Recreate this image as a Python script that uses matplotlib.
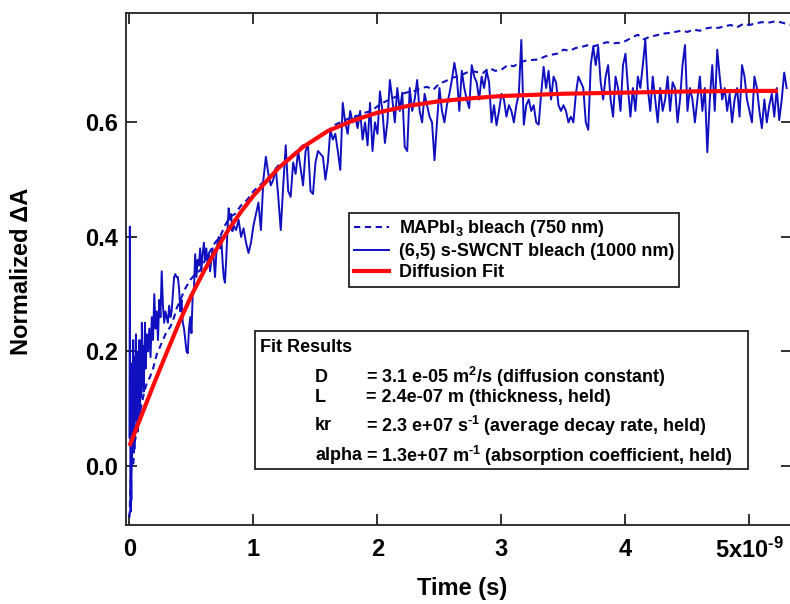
import numpy as np
import matplotlib
matplotlib.use("Agg")
import matplotlib.pyplot as plt
from matplotlib.patches import Rectangle
from matplotlib.lines import Line2D

plt.rcParams['font.family'] = ['Liberation Sans', 'DejaVu Sans']
plt.rcParams['font.weight'] = 'bold'
plt.rcParams['mathtext.default'] = 'regular'
plt.rcParams['mathtext.fontset'] = 'custom'
plt.rcParams['mathtext.rm'] = 'Liberation Sans:bold'
plt.rcParams['mathtext.bf'] = 'Liberation Sans:bold'
plt.rcParams['mathtext.it'] = 'Liberation Sans:bold'

# ---------------- data (time in ns) ----------------
# (6,5) s-SWCNT bleach, early dense part
t_swcnt_early = [0.000, 0.003, 0.006, 0.009, 0.012, 0.015, 0.018, 0.021, 0.024, 0.027,
                 0.030, 0.033, 0.036, 0.040, 0.044, 0.048, 0.052, 0.056, 0.060, 0.065,
                 0.070, 0.075, 0.080, 0.085, 0.090, 0.095, 0.100, 0.105, 0.110, 0.115,
                 0.120, 0.125, 0.130, 0.140, 0.150]
y_swcnt_early = [0.05, 0.418, 0.10, -0.08, 0.02, -0.06, 0.12, 0.00, 0.18, 0.05,
                 0.22, 0.06, 0.15, 0.03, 0.19, 0.08, 0.23, 0.10, 0.17, 0.06,
                 0.20, 0.11, 0.22, 0.09, 0.18, 0.12, 0.25, 0.14, 0.21, 0.13,
                 0.19, 0.25, 0.17, 0.23, 0.20]
# 0.16 .. 0.83 ns, 0.01 ns step
swcnt_step_b = 0.01
swcnt_start_b = 0.16
y_swcnt_b = [0.24, 0.19, 0.26, 0.22, 0.30, 0.24, 0.27, 0.22, 0.29, 0.26,
             0.34, 0.28, 0.25, 0.27, 0.26, 0.25, 0.28, 0.26, 0.27, 0.30,
             0.33, 0.335, 0.33, 0.33, 0.31, 0.27, 0.29, 0.25, 0.24, 0.22,
             0.20, 0.197, 0.24, 0.26, 0.232, 0.30, 0.31, 0.37, 0.33, 0.36,
             0.35, 0.38, 0.34, 0.37, 0.39, 0.36, 0.38, 0.35, 0.37, 0.34,
             0.36, 0.38, 0.36, 0.33, 0.37, 0.39, 0.40, 0.38, 0.40, 0.36,
             0.33, 0.32, 0.36, 0.41, 0.45, 0.43, 0.44, 0.41]
# 0.84 .. 5.30 ns, 0.02 ns step
swcnt_step_c = 0.02
swcnt_start_c = 0.84
y_swcnt_c = [0.42, 0.412, 0.43, 0.40, 0.415, 0.39, 0.372, 0.39, 0.42, 0.44,
             0.46, 0.412, 0.50, 0.54, 0.51, 0.49, 0.50, 0.52, 0.47, 0.412,
             0.49, 0.56, 0.48, 0.47, 0.53, 0.51, 0.55, 0.52, 0.49, 0.55,
             0.56, 0.48, 0.475, 0.53, 0.55, 0.545, 0.54, 0.50, 0.53, 0.587,
             0.57, 0.58, 0.55, 0.517, 0.634, 0.60, 0.58, 0.62, 0.60, 0.61,
             0.59, 0.62, 0.57, 0.60, 0.56, 0.634, 0.55, 0.60, 0.58, 0.654,
             0.62, 0.564, 0.60, 0.674, 0.64, 0.60, 0.66, 0.62, 0.652, 0.557,
             0.55, 0.66, 0.62, 0.64, 0.674, 0.62, 0.60, 0.65, 0.63, 0.61,
             0.60, 0.534, 0.60, 0.66, 0.62, 0.60, 0.63, 0.65, 0.674, 0.704,
             0.68, 0.62, 0.69, 0.66, 0.64, 0.625, 0.70, 0.68, 0.67, 0.64,
             0.68, 0.66, 0.69, 0.67, 0.60, 0.63, 0.595, 0.62, 0.65, 0.64,
             0.61, 0.63, 0.62, 0.60, 0.63, 0.65, 0.744, 0.596, 0.63, 0.64,
             0.62, 0.63, 0.60, 0.596, 0.65, 0.697, 0.66, 0.69, 0.64, 0.68,
             0.67, 0.63, 0.62, 0.63, 0.62, 0.60, 0.61, 0.60, 0.65, 0.68,
             0.67, 0.66, 0.60, 0.587, 0.70, 0.732, 0.70, 0.732, 0.67, 0.64,
             0.68, 0.70, 0.64, 0.61, 0.68, 0.66, 0.62, 0.70, 0.72, 0.66,
             0.61, 0.66, 0.62, 0.68, 0.66, 0.70, 0.744, 0.66, 0.62, 0.68,
             0.64, 0.60, 0.66, 0.62, 0.64, 0.68, 0.62, 0.67, 0.66, 0.60,
             0.64, 0.70, 0.735, 0.62, 0.66, 0.64, 0.60, 0.64, 0.68, 0.62,
             0.66, 0.548, 0.64, 0.70, 0.62, 0.727, 0.68, 0.64, 0.66, 0.62,
             0.65, 0.60, 0.64, 0.66, 0.61, 0.70, 0.68, 0.64, 0.62, 0.60,
             0.68, 0.66, 0.62, 0.59, 0.64, 0.60, 0.63, 0.65, 0.61, 0.66,
             0.604, 0.64, 0.687, 0.66]

# MAPbI3 bleach (750 nm)
t_mapbi = [0.0, 0.01, 0.02, 0.03, 0.04, 0.05, 0.06, 0.08, 0.10, 0.12, 0.14, 0.165, 0.19,
           0.22, 0.246, 0.27, 0.30, 0.33, 0.36, 0.38, 0.41, 0.45, 0.49, 0.53, 0.57,
           0.61, 0.65, 0.69, 0.73, 0.77, 0.81, 0.85, 0.90, 0.95, 1.00, 1.05, 1.10,
           1.15, 1.20, 1.25, 1.30, 1.35, 1.40, 1.45, 1.50, 1.55, 1.60, 1.65, 1.70,
           1.75, 1.80, 1.85, 1.90, 1.95, 2.00, 2.05, 2.10, 2.15, 2.20, 2.25, 2.30,
           2.35, 2.40, 2.45, 2.50, 2.55, 2.60, 2.65, 2.70, 2.75, 2.80, 2.85, 2.90,
           2.95, 3.00, 3.05, 3.10, 3.15, 3.20, 3.25, 3.30, 3.35, 3.40, 3.45, 3.50,
           3.55, 3.60, 3.65, 3.70, 3.75, 3.80, 3.85, 3.90, 3.95, 4.00, 4.05, 4.10,
           4.15, 4.20, 4.25, 4.30, 4.35, 4.40, 4.45, 4.50, 4.55, 4.60, 4.65, 4.70,
           4.75, 4.80, 4.85, 4.90, 4.95, 5.00, 5.05, 5.10, 5.15, 5.20, 5.25, 5.30, 5.34]
y_mapbi = [-0.09, -0.02, 0.01, 0.00, 0.04, 0.05, 0.07, 0.09, 0.11, 0.13, 0.145, 0.155, 0.17,
           0.195, 0.208, 0.22, 0.235, 0.243, 0.26, 0.275, 0.29, 0.31, 0.325, 0.335, 0.342,
           0.36, 0.375, 0.39, 0.40, 0.42, 0.435, 0.44, 0.455, 0.465, 0.48, 0.49, 0.50,
           0.51, 0.525, 0.53, 0.54, 0.55, 0.56, 0.565, 0.57, 0.58, 0.585, 0.595, 0.60,
           0.605, 0.61, 0.612, 0.617, 0.62, 0.628, 0.635, 0.64, 0.645, 0.65, 0.653, 0.655,
           0.66, 0.662, 0.657, 0.668, 0.672, 0.678, 0.68, 0.685, 0.69, 0.688, 0.686, 0.695,
           0.69, 0.692, 0.70, 0.698, 0.705, 0.708, 0.709, 0.71, 0.715, 0.718, 0.72, 0.727,
           0.725, 0.73, 0.732, 0.735, 0.733, 0.737, 0.74, 0.738, 0.739, 0.742, 0.748, 0.753,
           0.745, 0.75, 0.752, 0.755, 0.756, 0.758, 0.76, 0.758, 0.762, 0.76, 0.764, 0.766,
           0.765, 0.768, 0.77, 0.766, 0.772, 0.77, 0.773, 0.775, 0.774, 0.776, 0.775, 0.772, 0.77]

# Diffusion fit
t_fit = [0.0, 0.1, 0.2, 0.3, 0.4, 0.5, 0.6, 0.7, 0.8, 0.9, 1.0, 1.2, 1.4, 1.6, 1.8,
         2.0, 2.25, 2.5, 2.75, 3.0, 3.5, 4.0, 4.5, 5.0, 5.23]
y_fit = [0.035, 0.09, 0.145, 0.198, 0.25, 0.298, 0.34, 0.378, 0.413, 0.444, 0.472,
         0.52, 0.557, 0.585, 0.603, 0.617, 0.629, 0.637, 0.642, 0.646, 0.650, 0.652,
         0.654, 0.655, 0.655]

x_ticks = [0, 1, 2, 3, 4, 5]
x_ticklabels = ['0', '1', '2', '3', '4', r'5x10$^{\text{-}9}$']
y_ticks = [0.0, 0.2, 0.4, 0.6]
y_ticklabels = ['0.0', '0.2', '0.4', '0.6']

legend_labels = ['MAPbI$_3$ bleach (750 nm)', '(6,5) s-SWCNT bleach (1000 nm)', 'Diffusion Fit']
fit_title = 'Fit Results'
fit_names = ['D', 'L', 'kr', 'alpha']
fit_values = ['= 3.1 e-05 m$^2$/s (diffusion constant)',
              '= 2.4e-07 m (thickness, held)',
              r'= 2.3 e+07 s$^{\text{-}1}$ (average decay rate, held)',
              r'= 1.3e+07 m$^{\text{-}1}$ (absorption coefficient, held)']

# ---------------- assemble SWCNT time axis ----------------
t_swcnt = np.concatenate([
    np.array(t_swcnt_early),
    swcnt_start_b + swcnt_step_b * np.arange(len(y_swcnt_b)),
    swcnt_start_c + swcnt_step_c * np.arange(len(y_swcnt_c)),
])
y_swcnt = np.concatenate([y_swcnt_early, y_swcnt_b, y_swcnt_c])

# ---------------- figure ----------------
W, H = 790, 604
fig = plt.figure(figsize=(W / 100, H / 100), dpi=100)

def fx(px):
    return px / W

def fy(py):
    return 1 - py / H

ax = fig.add_axes([fx(126), fy(525), fx(792) - fx(126), fy(13) - fy(525)])

blue = '#1010c0'
red = '#ff0a0a'
ax.plot(t_mapbi, y_mapbi, color=blue, lw=1.5, linestyle=(0, (3, 2.2)))
ax.plot(t_swcnt, y_swcnt, color=blue, lw=1.4)
ax.plot(t_fit, y_fit, color=red, lw=3.0, solid_capstyle='butt')

ax.set_xlim(-0.028, 5.343)
ax.set_ylim(-0.103, 0.791)

ax.set_xticks(x_ticks)
ax.set_xticklabels(x_ticklabels)
ax.set_yticks(y_ticks)
ax.set_yticklabels(y_ticklabels)
ax.tick_params(axis='both', direction='in', length=8, width=1.3, labelsize=17,
               top=True, right=True, color='#222222')
ax.tick_params(axis='x', pad=9)
ax.tick_params(axis='y', pad=6)
for lab in ax.get_xticklabels() + ax.get_yticklabels():
    lab.set_fontweight('bold')
for s in ax.spines.values():
    s.set_linewidth(1.3)
    s.set_color('#222222')

fig.text(fx(462), fy(588), 'Time (s)', ha='center', va='center', fontsize=17, fontweight='bold')
fig.text(fx(22), fy(271), 'Normalized \u0394A', ha='center', va='center', rotation=90,
         fontsize=17, fontweight='bold')

# legend
handles = [Line2D([], [], color=blue, lw=1.5, linestyle=(0, (3, 2.2))),
           Line2D([], [], color=blue, lw=1.4),
           Line2D([], [], color=red, lw=3.0)]
leg = ax.legend(handles, legend_labels, loc='upper left',
                bbox_to_anchor=(fx(349), fy(213)), bbox_transform=fig.transFigure,
                borderaxespad=0, fancybox=False, framealpha=1, edgecolor='#222222',
                prop={'size': 13, 'weight': 'bold'}, handlelength=1.9,
                handletextpad=0.55, labelspacing=0.22, borderpad=0.3)
leg.get_frame().set_linewidth(1.3)

# fit results box
fig.patches.append(Rectangle((fx(255), fy(469)), fx(748) - fx(255), fy(331) - fy(469),
                             transform=fig.transFigure, fill=False, lw=1.3,
                             edgecolor='#222222'))
fig.text(fx(260), fy(347), fit_title, ha='left', va='center', fontsize=13, fontweight='bold')
row_y = [377, 398, 426, 456]
for name, val, ry in zip(fit_names, fit_values, row_y):
    fig.text(fx(315), fy(ry), name, ha='left', va='center', fontsize=13, fontweight='bold')
    fig.text(fx(366), fy(ry), val, ha='left', va='center', fontsize=13, fontweight='bold')

fig.savefig('out.png', dpi=100)
